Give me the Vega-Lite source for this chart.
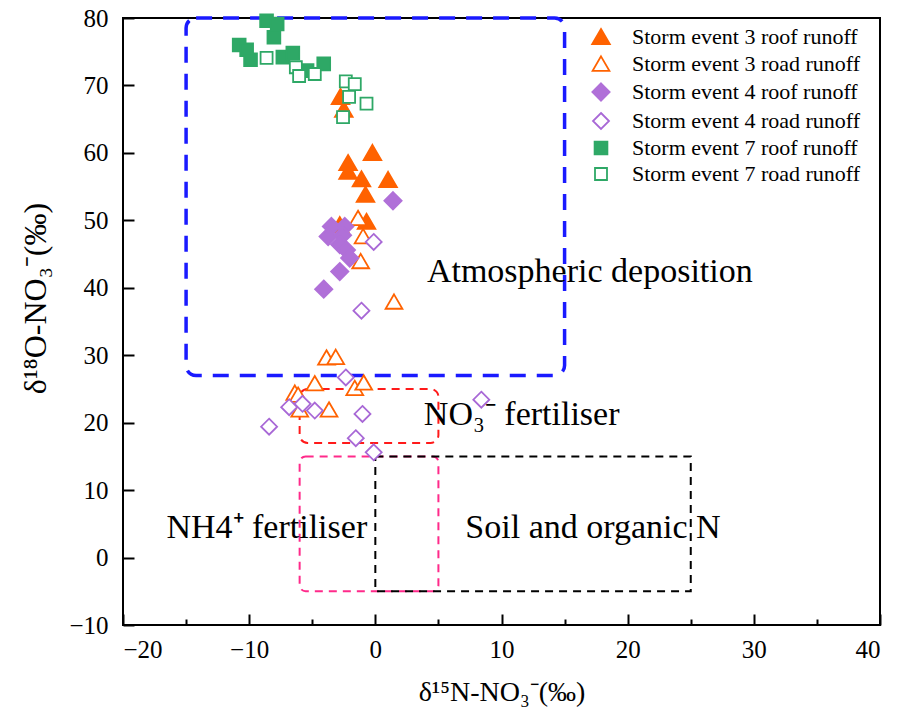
{
  "$schema": "https://vega.github.io/schema/vega-lite/v6.json",
  "width": 757,
  "height": 607,
  "autosize": {"type": "none"},
  "padding": {"left": 123, "top": 18, "right": 24, "bottom": 98},
  "background": "white",
  "config": {
    "font": "Liberation Serif",
    "view": {"stroke": "black", "strokeWidth": 2},
    "legend": {
      "orient": "none", "legendX": 467, "legendY": 8, "title": null,
      "labelFontSize": 22, "labelFont": "Liberation Serif", "labelColor": "black", "labelLimit": 300,
      "symbolSize": 256, "symbolStrokeWidth": 1.8, "rowPadding": 4, "labelOffset": 20, "padding": 0
    }
  },
  "resolve": {"axis": {"x": "independent"}},
  "layer": [
    {
      "data": {"values": [{"zone": "Atmospheric deposition", "x1": -15, "x2": 15, "y1": 27, "y2": 80}]},
      "mark": {"type": "rect", "filled": false, "stroke": "#1a1aff", "strokeWidth": 3.5, "strokeDash": [16, 11], "cornerRadius": 10},
      "encoding": {
        "x": {"field": "x1", "type": "quantitative", "scale": {"domain": [-20, 40], "nice": false, "zero": false}, "axis": null},
        "x2": {"field": "x2"},
        "y": {"field": "y1", "type": "quantitative", "scale": {"domain": [-10, 80], "nice": false, "zero": false}},
        "y2": {"field": "y2"}
      }
    },
    {
      "data": {"values": [{"zone": "NO3 fertiliser", "x1": -6, "x2": 5, "y1": 17, "y2": 25}]},
      "mark": {"type": "rect", "filled": false, "stroke": "#ff1a1a", "strokeWidth": 2, "strokeDash": [8, 6], "cornerRadius": 8},
      "encoding": {
        "x": {"field": "x1", "type": "quantitative", "axis": null},
        "x2": {"field": "x2"},
        "y": {"field": "y1", "type": "quantitative"},
        "y2": {"field": "y2"}
      }
    },
    {
      "data": {"values": [{"zone": "NH4 fertiliser", "x1": -6, "x2": 5, "y1": -5, "y2": 15}]},
      "mark": {"type": "rect", "filled": false, "stroke": "#ff2a8a", "strokeWidth": 2, "strokeDash": [8, 6], "cornerRadius": 6},
      "encoding": {
        "x": {"field": "x1", "type": "quantitative", "axis": null},
        "x2": {"field": "x2"},
        "y": {"field": "y1", "type": "quantitative"},
        "y2": {"field": "y2"}
      }
    },
    {
      "data": {"values": [{"zone": "Soil and organic N", "x1": 0, "x2": 25, "y1": -5, "y2": 15}]},
      "mark": {"type": "rect", "filled": false, "stroke": "black", "strokeWidth": 2, "strokeDash": [8, 6]},
      "encoding": {
        "x": {
          "field": "x1", "type": "quantitative",
          "axis": {"orient": "bottom", "values": [-15, -5, 5, 15, 25, 35], "labels": false, "domain": false, "grid": false, "title": null, "tickSize": -6, "tickWidth": 2, "tickColor": "black"}
        },
        "x2": {"field": "x2"},
        "y": {"field": "y1", "type": "quantitative"},
        "y2": {"field": "y2"}
      }
    },
    {
      "data": {
        "values": [
          {"series": "Storm event 3 roof runoff", "n15": -2.76, "o18": 68.3},
          {"series": "Storm event 3 roof runoff", "n15": -2.5, "o18": 66.4},
          {"series": "Storm event 3 roof runoff", "n15": -0.23, "o18": 60.0},
          {"series": "Storm event 3 roof runoff", "n15": -2.16, "o18": 58.5},
          {"series": "Storm event 3 roof runoff", "n15": -2.16, "o18": 57.2},
          {"series": "Storm event 3 roof runoff", "n15": -1.1, "o18": 56.1},
          {"series": "Storm event 3 roof runoff", "n15": 1.01, "o18": 56.0},
          {"series": "Storm event 3 roof runoff", "n15": -0.78, "o18": 53.8},
          {"series": "Storm event 3 roof runoff", "n15": -0.7, "o18": 49.8},
          {"series": "Storm event 3 roof runoff", "n15": -2.82, "o18": 49.3},
          {"series": "Storm event 3 road runoff", "n15": -1.37, "o18": 50.3},
          {"series": "Storm event 3 road runoff", "n15": -0.97, "o18": 47.6},
          {"series": "Storm event 3 road runoff", "n15": -1.16, "o18": 43.9},
          {"series": "Storm event 3 road runoff", "n15": 1.48, "o18": 37.9},
          {"series": "Storm event 3 road runoff", "n15": -3.87, "o18": 29.6},
          {"series": "Storm event 3 road runoff", "n15": -3.14, "o18": 29.7},
          {"series": "Storm event 3 road runoff", "n15": -4.8, "o18": 25.8},
          {"series": "Storm event 3 road runoff", "n15": -1.63, "o18": 25.1},
          {"series": "Storm event 3 road runoff", "n15": -0.92, "o18": 25.9},
          {"series": "Storm event 3 road runoff", "n15": -6.38, "o18": 24.4},
          {"series": "Storm event 3 road runoff", "n15": -6.12, "o18": 24.1},
          {"series": "Storm event 3 road runoff", "n15": -3.67, "o18": 21.9},
          {"series": "Storm event 3 road runoff", "n15": -5.99, "o18": 21.9},
          {"series": "Storm event 4 roof runoff", "n15": 1.4, "o18": 52.9},
          {"series": "Storm event 4 roof runoff", "n15": -3.48, "o18": 49.1},
          {"series": "Storm event 4 roof runoff", "n15": -2.42, "o18": 49.1},
          {"series": "Storm event 4 roof runoff", "n15": -3.74, "o18": 47.6},
          {"series": "Storm event 4 roof runoff", "n15": -2.6, "o18": 47.8},
          {"series": "Storm event 4 roof runoff", "n15": -2.82, "o18": 46.4},
          {"series": "Storm event 4 roof runoff", "n15": -2.29, "o18": 45.6},
          {"series": "Storm event 4 roof runoff", "n15": -2.03, "o18": 44.4},
          {"series": "Storm event 4 roof runoff", "n15": -2.82, "o18": 42.4},
          {"series": "Storm event 4 roof runoff", "n15": -4.09, "o18": 39.8},
          {"series": "Storm event 4 road runoff", "n15": -0.13, "o18": 46.8},
          {"series": "Storm event 4 road runoff", "n15": -1.1, "o18": 36.6},
          {"series": "Storm event 4 road runoff", "n15": -2.34, "o18": 26.7},
          {"series": "Storm event 4 road runoff", "n15": -6.83, "o18": 22.3},
          {"series": "Storm event 4 road runoff", "n15": -5.77, "o18": 22.8},
          {"series": "Storm event 4 road runoff", "n15": -4.8, "o18": 21.8},
          {"series": "Storm event 4 road runoff", "n15": -1.02, "o18": 21.3},
          {"series": "Storm event 4 road runoff", "n15": -8.42, "o18": 19.4},
          {"series": "Storm event 4 road runoff", "n15": -1.55, "o18": 17.7},
          {"series": "Storm event 4 road runoff", "n15": -0.13, "o18": 15.6},
          {"series": "Storm event 4 road runoff", "n15": 8.4, "o18": 23.4},
          {"series": "Storm event 7 roof runoff", "n15": -8.62, "o18": 79.6},
          {"series": "Storm event 7 roof runoff", "n15": -7.78, "o18": 79.1},
          {"series": "Storm event 7 roof runoff", "n15": -8.04, "o18": 77.15},
          {"series": "Storm event 7 roof runoff", "n15": -10.79, "o18": 76.0},
          {"series": "Storm event 7 roof runoff", "n15": -10.2, "o18": 75.3},
          {"series": "Storm event 7 roof runoff", "n15": -9.89, "o18": 73.8},
          {"series": "Storm event 7 roof runoff", "n15": -7.33, "o18": 74.2},
          {"series": "Storm event 7 roof runoff", "n15": -6.54, "o18": 74.8},
          {"series": "Storm event 7 roof runoff", "n15": -5.41, "o18": 72.2},
          {"series": "Storm event 7 roof runoff", "n15": -4.09, "o18": 73.2},
          {"series": "Storm event 7 road runoff", "n15": -8.62, "o18": 74.1},
          {"series": "Storm event 7 road runoff", "n15": -6.3, "o18": 72.7},
          {"series": "Storm event 7 road runoff", "n15": -6.04, "o18": 71.4},
          {"series": "Storm event 7 road runoff", "n15": -4.8, "o18": 71.7},
          {"series": "Storm event 7 road runoff", "n15": -2.34, "o18": 70.6},
          {"series": "Storm event 7 road runoff", "n15": -1.63, "o18": 70.2},
          {"series": "Storm event 7 road runoff", "n15": -2.08, "o18": 68.3},
          {"series": "Storm event 7 road runoff", "n15": -0.7, "o18": 67.3},
          {"series": "Storm event 7 road runoff", "n15": -2.56, "o18": 65.3}
        ]
      },
      "mark": {"type": "point", "filled": true, "strokeWidth": 1.8, "opacity": 1, "size": 256},
      "encoding": {
        "x": {
          "field": "n15", "type": "quantitative",
          "axis": {
            "orient": "bottom", "values": [-20, -10, 0, 10, 20, 30, 40], "grid": false, "domain": false,
            "tickSize": -11, "tickWidth": 2, "tickColor": "black",
            "labelFontSize": 25, "labelColor": "black", "labelPadding": 23, "labelFont": "Liberation Serif",
            "title": "δ¹⁵N-NO₃⁻(‰)", "titleFontSize": 28, "titleFontWeight": "normal", "titleColor": "black", "titlePadding": 16, "titleFont": "Liberation Serif"
          }
        },
        "y": {
          "field": "o18", "type": "quantitative",
          "axis": {
            "values": [-10, 0, 10, 20, 30, 40, 50, 60, 70, 80], "grid": false, "domain": false,
            "tickSize": -11, "tickWidth": 2, "tickColor": "black",
            "labelFontSize": 25, "labelColor": "black", "labelPadding": 26, "labelFont": "Liberation Serif",
            "title": "δ¹⁸O-NO₃⁻(‰)", "titleFontSize": 32, "titleFontWeight": "normal", "titleColor": "black", "titlePadding": 16, "titleFont": "Liberation Serif",
            "titleY": 280
          }
        },
        "shape": {
          "field": "series", "type": "nominal",
          "scale": {
            "domain": ["Storm event 3 roof runoff", "Storm event 3 road runoff", "Storm event 4 roof runoff", "Storm event 4 road runoff", "Storm event 7 roof runoff", "Storm event 7 road runoff"],
            "range": [
              "M0,-1L1.1,0.9L-1.1,0.9Z",
              "M0,-0.95L1.05,0.85L-1.05,0.85Z",
              "M0,-1.08L1.08,0L0,1.08L-1.08,0Z",
              "M0,-1L1,0L0,1L-1,0Z",
              "M-0.8,-0.8H0.8V0.8H-0.8Z",
              "M-0.75,-0.75H0.75V0.75H-0.75Z"
            ]
          },
          "legend": {"title": null}
        },
        "fill": {
          "field": "series", "type": "nominal",
          "scale": {
            "domain": ["Storm event 3 roof runoff", "Storm event 3 road runoff", "Storm event 4 roof runoff", "Storm event 4 road runoff", "Storm event 7 roof runoff", "Storm event 7 road runoff"],
            "range": ["#ff6200", "white", "#b070d8", "white", "#2ea866", "white"]
          },
          "legend": {"title": null}
        },
        "stroke": {
          "field": "series", "type": "nominal",
          "scale": {
            "domain": ["Storm event 3 roof runoff", "Storm event 3 road runoff", "Storm event 4 roof runoff", "Storm event 4 road runoff", "Storm event 7 roof runoff", "Storm event 7 road runoff"],
            "range": ["#ff6200", "#ff6200", "#b070d8", "#a868d6", "#2ea866", "#2ea866"]
          },
          "legend": {"title": null}
        }
      }
    },
    {
      "data": {
        "values": [
          {"label": "Atmospheric deposition", "tx": 17.0, "ty": 42.3},
          {"label": "NO₃⁻ fertiliser", "tx": 11.6, "ty": 21.1},
          {"label": "NH4⁺ fertiliser", "tx": -8.6, "ty": 4.4},
          {"label": "Soil and organic N", "tx": 17.25, "ty": 4.4}
        ]
      },
      "mark": {"type": "text", "font": "Liberation Serif", "fontSize": 34, "color": "black", "align": "center", "baseline": "middle"},
      "encoding": {
        "x": {"field": "tx", "type": "quantitative", "axis": null},
        "y": {"field": "ty", "type": "quantitative"},
        "text": {"field": "label"}
      }
    }
  ]
}
